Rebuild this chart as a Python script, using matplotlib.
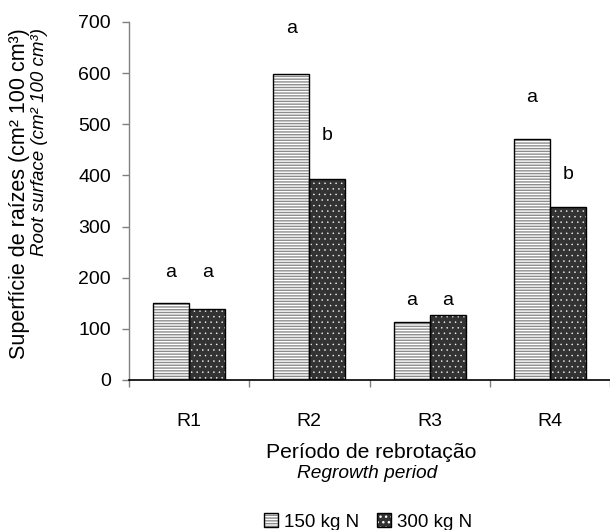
import matplotlib
matplotlib.use("Agg")
import matplotlib.pyplot as plt
from matplotlib.patches import Patch
from matplotlib.legend_handler import HandlerTuple
import numpy as np

plt.rcParams['font.family'] = ['Liberation Sans', 'DejaVu Sans']

categories = ['R1', 'R2', 'R3', 'R4']
n150 = [151, 598, 113, 472]
n300 = [139, 393, 128, 338]
letters150 = ['a', 'a', 'a', 'a']
letters300 = ['a', 'b', 'a', 'b']
letter_y150 = [211, 688, 156, 553]
letter_y300 = [211, 479, 156, 401]
series_names = ['150 kg N', '300 kg N']
yticks = [0, 100, 200, 300, 400, 500, 600, 700]

fig = plt.figure(figsize=(6.1, 5.3), dpi=100)
ax = fig.add_axes([129/610, 150/530, 481/610, 358/530])

x = np.arange(len(categories))
w = 0.3
grey = '#8c8c8c'
dark = '#333333'


def hatched(**kw):
    lw = kw.pop('hlw')
    with plt.rc_context({'hatch.linewidth': lw}):
        p = Patch(**kw)
    if hasattr(p, 'set_hatch_linewidth'):
        p.set_hatch_linewidth(lw)
    return p


# 150 kg N: white with grey horizontal lines
with plt.rc_context({'hatch.linewidth': 1.0}):
    b1 = ax.bar(x - w/2, n150, w, color='white', edgecolor=grey, hatch='------', linewidth=0, zorder=2)
for p in b1:
    if hasattr(p, 'set_hatch_linewidth'):
        p.set_hatch_linewidth(1.0)
ax.bar(x - w/2, n150, w, fill=False, edgecolor='black', linewidth=1.0, zorder=3)
# 300 kg N: dark with white dots
with plt.rc_context({'hatch.linewidth': 0.3}):
    b2 = ax.bar(x + w/2, n300, w, color=dark, edgecolor='white', hatch='...', linewidth=0, zorder=2)
for p in b2:
    if hasattr(p, 'set_hatch_linewidth'):
        p.set_hatch_linewidth(0.3)
ax.bar(x + w/2, n300, w, fill=False, edgecolor='black', linewidth=1.0, zorder=3)

for i in range(len(categories)):
    ax.text(x[i] - w/2, letter_y150[i], letters150[i], ha='center', va='center', fontsize=14)
    ax.text(x[i] + w/2, letter_y300[i], letters300[i], ha='center', va='center', fontsize=14)

ax.set_xlim(-0.5, len(categories) - 0.5)
ax.set_ylim(0, 700)
ax.set_yticks(yticks)
ax.set_xticks(x)
ax.set_xticklabels(categories)
ax.set_xticks(np.arange(len(categories) + 1) - 0.5, minor=True)

ax.tick_params(axis='x', which='major', length=0, pad=24, labelsize=14)
ax.tick_params(axis='x', which='minor', length=5, width=1, color='#808080', direction='out')
ax.tick_params(axis='y', length=5, width=1, color='#808080', direction='out', pad=8, labelsize=14)

for s in ['top', 'right']:
    ax.spines[s].set_visible(False)
ax.spines['left'].set_color('#808080')
ax.spines['left'].set_linewidth(1.0)
ax.spines['bottom'].set_color('black')
ax.spines['bottom'].set_linewidth(1.2)

# y-axis labels (two lines)
fig.text(20/610, 1 - 28/530, 'Superfície de raízes (cm² 100 cm³)', rotation=90,
         ha='center', va='top', fontsize=15.5)
fig.text(40/610, 1 - 28/530, 'Root surface (cm² 100 cm³)', rotation=90,
         ha='center', va='top', fontsize=13.5, style='italic')

# x-axis labels
fig.text(371/610, 1 - 452/530, 'Período de rebrotação', ha='center', va='center', fontsize=15.2)
fig.text(367/610, 1 - 473/530, 'Regrowth period', ha='center', va='center', fontsize=13.8, style='italic')

h1 = (hatched(facecolor='white', edgecolor=grey, hatch='------', linewidth=0, hlw=1.0),
      Patch(fill=False, edgecolor='black', linewidth=1.0))
h2 = (hatched(facecolor=dark, edgecolor='white', hatch='...', linewidth=0, hlw=0.3),
      Patch(fill=False, edgecolor='black', linewidth=1.0))
fig.legend([h1, h2], series_names, handler_map={tuple: HandlerTuple(ndivide=1)},
           loc='center', bbox_to_anchor=(368/610, 1 - 522/530), ncol=2, frameon=False,
           fontsize=13.5, handlelength=0.75, handleheight=0.75, handletextpad=0.3,
           columnspacing=0.95, borderpad=0)

fig.savefig('out.png', dpi=100)
